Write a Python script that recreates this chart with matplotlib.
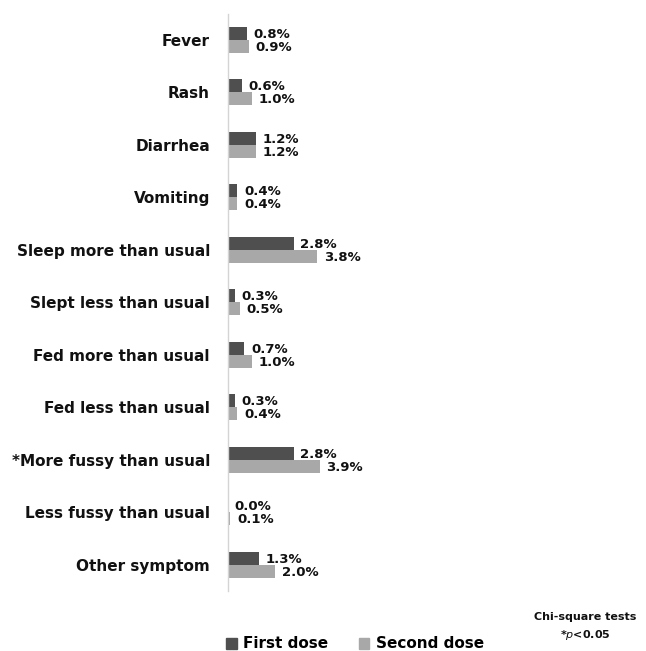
import matplotlib
matplotlib.use("Agg")
import matplotlib.pyplot as plt
import numpy as np
from matplotlib.patches import Patch

categories = ["Fever", "Rash", "Diarrhea", "Vomiting", "Sleep more than usual",
              "Slept less than usual", "Fed more than usual", "Fed less than usual",
              "*More fussy than usual", "Less fussy than usual", "Other symptom"]
first_dose = [0.8, 0.6, 1.2, 0.4, 2.8, 0.3, 0.7, 0.3, 2.8, 0.0, 1.3]
second_dose = [0.9, 1.0, 1.2, 0.4, 3.8, 0.5, 1.0, 0.4, 3.9, 0.1, 2.0]
series_names = ["First dose", "Second dose"]

c1 = "#4f4f4f"
c2 = "#a8a8a8"

fig = plt.figure(figsize=(6.46, 6.51), dpi=100)
top_px, bot_px = 13.5, 591
ax = fig.add_axes([228/646, 1-bot_px/651, 400/646, (bot_px-top_px)/651])

y = np.arange(len(categories))
h = 0.245
ax.barh(y - h/2, first_dose, height=h, color=c1)
ax.barh(y + h/2, second_dose, height=h, color=c2)

for vals, yy in ((first_dose, y - h/2), (second_dose, y + h/2)):
    for v, yv in zip(vals, yy):
        ax.text(v + 0.28, yv + 0.02, f"{v:.1f}%", va="center", ha="left",
                fontsize=9.5, fontweight="bold", color="#111111")

ax.set_ylim(len(categories) - 0.5, -0.5)
ax.set_xlim(0, 17)
ax.set_yticks(y)
ax.set_yticklabels(categories, fontsize=11, fontweight="bold", color="#111111")
ax.tick_params(axis="y", length=0, pad=13)
ax.set_xticks([])
for s in ["top", "right", "bottom"]:
    ax.spines[s].set_visible(False)
ax.spines["left"].set_color("#d4d4d4")
ax.spines["left"].set_linewidth(1.0)

handles = [Patch(color=c1), Patch(color=c2)]
fig.legend(handles, series_names, loc="center", bbox_to_anchor=(355/646, 1-644/651),
           ncol=2, frameon=False, prop={"weight": "bold", "size": 11},
           handlelength=0.7, handleheight=0.7, handletextpad=0.4, columnspacing=2.0)

fig.text(585/646, 1-617/651, "Chi-square tests", ha="center", va="center",
         fontsize=8, fontweight="bold", color="#111111")
fig.text(585/646, 1-635/651, "*$\\it{p}$<0.05", ha="center", va="center",
         fontsize=8, fontweight="bold", color="#111111")

fig.savefig("out.png", dpi=100, facecolor="white")
